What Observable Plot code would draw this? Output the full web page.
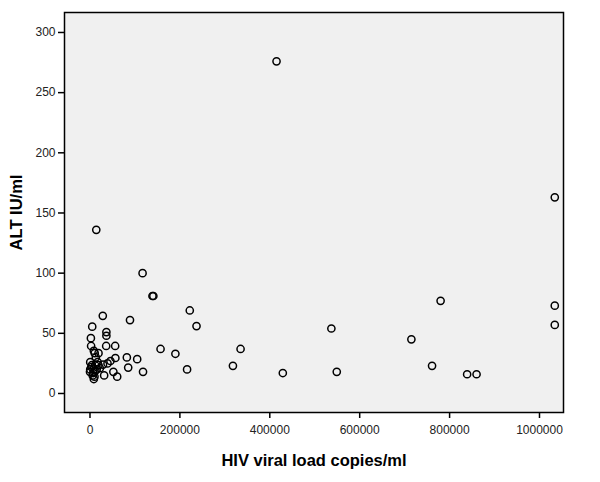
<!DOCTYPE html>
<html>
<head>
<meta charset="utf-8">
<script src="https://cdn.jsdelivr.net/npm/d3@7"></script>
<script src="https://cdn.jsdelivr.net/npm/@observablehq/plot@0.6"></script>
<style>
  html, body { margin: 0; padding: 0; background: #fff; }
  #chart svg { font-family: "Liberation Sans", Arial, sans-serif; }
  #chart g[aria-label="x-axis label"] text,
  #chart g[aria-label="y-axis label"] text { font-weight: bold; font-size: 16.5px; fill: #000; }
  #chart g[aria-label="x-axis tick label"] text,
  #chart g[aria-label="y-axis tick label"] text { fill: #222; }
</style>
</head>
<body>
<div id="chart"></div>
<script>
// HIV viral load (copies/ml)
const viralLoad = [
  415000, 1034000, 1034000, 1034000, 780000, 537000, 715000, 761000, 839000, 860000,
  549000, 429000, 117000, 139000, 141000, 222000, 237000, 157000, 190000, 216000,
  335000, 318000, 118000, 14000, 28500, 89000, 5000, 36500, 36500, 2000,
  2500, 36000, 56000, 8500, 10500, 19000, 56500, 82000, 105000, 45500,
  39000, 29000, 500, 4000, 11500, 19000, 500, 8000, 15000, 22000,
  0, 7000, 12000, 31500, 52000, 60500, 85000, 8500, 3000, 6000,
  10000, 17000, 13000
];
// ALT (IU/ml)
const alt = [
  276, 163, 73, 57, 77, 54, 45, 23, 16, 16,
  18, 17, 100, 81, 81, 69, 56, 37, 33, 20,
  37, 23, 18, 136, 64.5, 61, 55.5, 51, 48, 46,
  39.5, 39.5, 39.5, 35.5, 33.5, 33.5, 29.5, 30, 28.5, 27,
  25, 24, 26, 23.5, 23.5, 23.5, 20, 20, 20, 21,
  18, 17, 19, 15, 18, 14, 21.5, 12, 22, 15,
  14, 26, 30
];
const xTicks = [0, 200000, 400000, 600000, 800000, 1000000];
const yTicks = [0, 50, 100, 150, 200, 250, 300];

const data = viralLoad.map((v, i) => ({x: v, y: alt[i]}));

const chart = Plot.plot({
  width: 600,
  height: 482,
  marginLeft: 64,
  marginRight: 37,
  marginTop: 12,
  marginBottom: 70,
  style: {fontSize: "12px", fontFamily: "Liberation Sans, Arial, sans-serif", background: "#fff"},
  x: {domain: [-56700, 1053400]},
  y: {domain: [-15.8, 316.6]},
  marks: [
    Plot.frame({fill: "#f0f0f0", stroke: "none"}),
    Plot.axisX({
      ticks: xTicks, tickSize: 6, tickPadding: 7,
      tickFormat: d3.format("d"),
      label: "HIV viral load copies/ml", labelAnchor: "center", labelArrow: "none",
      labelOffset: 53, stroke: "#000", strokeWidth: 1.5
    }),
    Plot.axisY({
      ticks: yTicks, tickSize: 6, tickPadding: 3,
      label: "ALT IU/ml", labelAnchor: "center", labelArrow: "none",
      labelOffset: 54, stroke: "#000", strokeWidth: 1.5
    }),
    Plot.dot(data, {x: "x", y: "y", r: 3.6, stroke: "#000", strokeWidth: 1.5, fill: "none"}),
    Plot.frame({stroke: "#000", strokeWidth: 1.5})
  ]
});
document.getElementById("chart").appendChild(chart);
</script>
</body>
</html>
